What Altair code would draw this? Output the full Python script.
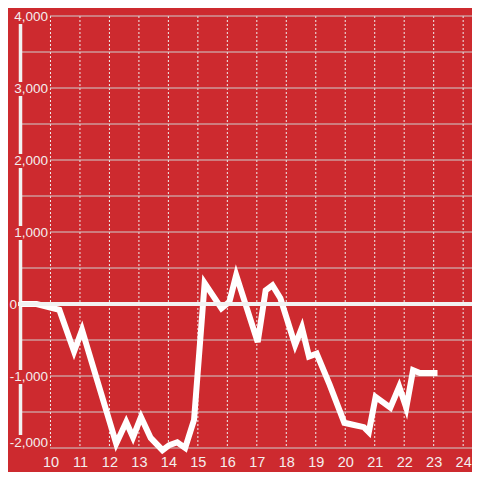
import altair as alt
import pandas as pd

# ---- data ----
hours = [9.0, 9.53, 10.3, 10.8, 11.07, 12.23, 12.57, 12.8, 13.07, 13.4, 13.8, 14.03,
         14.3, 14.57, 14.87, 15.23, 15.8, 16.07, 16.3, 17.03, 17.3, 17.53, 17.8, 18.3,
         18.53, 18.77, 19.03, 19.47, 19.97, 20.3, 20.63, 20.8, 21.03, 21.53, 21.83,
         22.07, 22.3, 22.53, 23.13]
values = [0, 0, -80, -660, -360, -1940, -1640, -1850, -1570, -1860, -2030, -1960,
          -1920, -2000, -1610, 290, -60, 30, 400, -530, 190, 260, 80, -570,
          -330, -730, -690, -1120, -1650, -1680, -1710, -1780, -1290, -1440, -1150,
          -1440, -920, -960, -960]

x_ticks = list(range(10, 25))
y_label_values = [-1000, 1000, 2000, 3000, 4000]
y_label_texts = ["-1,000", "1,000", "2,000", "3,000", "4,000"]
y_bottom_value = [-2000]
y_bottom_text = ["-2,000"]
y_zero_value = [0]
y_zero_text = ["0"]
y_minor_grid = [-1500, -500, 500, 1500, 2500, 3500]
y_major_grid = [-2000, -1000, 1000, 2000, 3000, 4000]

# ---- style ----
BG = "#cd2a2f"
W, H = 451, 432
GRID = "#cfcfcf"
LABEL = "#f4eeee"
AXISLINE = "#f2f2f2"
FONT = "Liberation Sans"
LAB_X = 27

xs = alt.Scale(domain=[9, 24.3], nice=False, zero=False)
ys = alt.Scale(domain=[-2000, 4000], nice=False, zero=False)


def xaxis():
    return alt.Axis(values=x_ticks, grid=False, domain=False, ticks=False, tickSize=0,
                    labelFontSize=14.5, labelColor=LABEL, labelFont=FONT,
                    labelPadding=7, format="d", labelOverlap=False, title=None)


line_df = pd.DataFrame({"x": hours, "y": values})

xgrid = alt.Chart(pd.DataFrame({"x": x_ticks})).mark_rule(
    color="#eeeeee", strokeWidth=1, strokeDash=[2, 2]).encode(
    x=alt.X("x:Q", scale=xs, axis=xaxis()), y=alt.value(0), y2=alt.value(H))

minor = alt.Chart(pd.DataFrame({"v": y_minor_grid})).mark_rule(
    color=GRID, strokeWidth=1).encode(
    y=alt.Y("v:Q", scale=ys, axis=None), x=alt.value(0), x2=alt.value(W))

major = alt.Chart(pd.DataFrame({"v": y_major_grid})).mark_rule(
    color=GRID, strokeWidth=1).encode(
    y=alt.Y("v:Q", scale=ys, axis=None), x=alt.value(LAB_X + 2), x2=alt.value(W))

vline = alt.Chart(pd.DataFrame({"v": [0]})).mark_rule(
    color=AXISLINE, strokeWidth=3.5).encode(
    x=alt.value(-0.5), y=alt.value(0), y2=alt.value(H))

gaps = alt.Chart(pd.DataFrame({"v": y_label_values})).mark_square(
    color=BG, size=196, opacity=1, yOffset=1).encode(
    y=alt.Y("v:Q", scale=ys, axis=None), x=alt.value(-0.5))

gap_bottom = alt.Chart(pd.DataFrame({"v": y_bottom_value})).mark_square(
    color=BG, size=196, opacity=1, yOffset=-6).encode(
    y=alt.Y("v:Q", scale=ys, axis=None), x=alt.value(-0.5))

labels = alt.Chart(pd.DataFrame({"v": y_label_values, "t": y_label_texts})).mark_text(
    align="right", baseline="middle", fontSize=13.5, font=FONT, color=LABEL, yOffset=1).encode(
    y=alt.Y("v:Q", scale=ys, axis=None), x=alt.value(LAB_X), text="t:N")

label_bottom = alt.Chart(pd.DataFrame({"v": y_bottom_value, "t": y_bottom_text})).mark_text(
    align="right", baseline="bottom", fontSize=13.5, font=FONT, color=LABEL, yOffset=2).encode(
    y=alt.Y("v:Q", scale=ys, axis=None), x=alt.value(LAB_X), text="t:N")

label_zero = alt.Chart(pd.DataFrame({"v": y_zero_value, "t": y_zero_text})).mark_text(
    align="right", baseline="middle", fontSize=13.5, font=FONT, color=LABEL, yOffset=1).encode(
    y=alt.Y("v:Q", scale=ys, axis=None), x=alt.value(-4), text="t:N")

line = alt.Chart(line_df).mark_line(color="white", strokeWidth=6).encode(
    x=alt.X("x:Q", scale=xs, axis=xaxis()),
    y=alt.Y("y:Q", scale=ys, axis=None),
)

zero = alt.Chart(pd.DataFrame({"v": y_zero_value})).mark_rule(
    color=AXISLINE, strokeWidth=4).encode(
    y=alt.Y("v:Q", scale=ys, axis=None), x=alt.value(-3), x2=alt.value(W))

chart = alt.layer(xgrid, minor, major, vline, gaps, gap_bottom, labels,
                  label_bottom, label_zero, line, zero).properties(
    width=W, height=H,
    autosize=alt.AutoSizeParams(type="none"),
    padding={"left": 13, "top": 8, "right": 0, "bottom": 24},
    background=BG,
).configure_view(stroke=None)

chart.save("out.html", embed_options={"renderer": "svg", "actions": False})
